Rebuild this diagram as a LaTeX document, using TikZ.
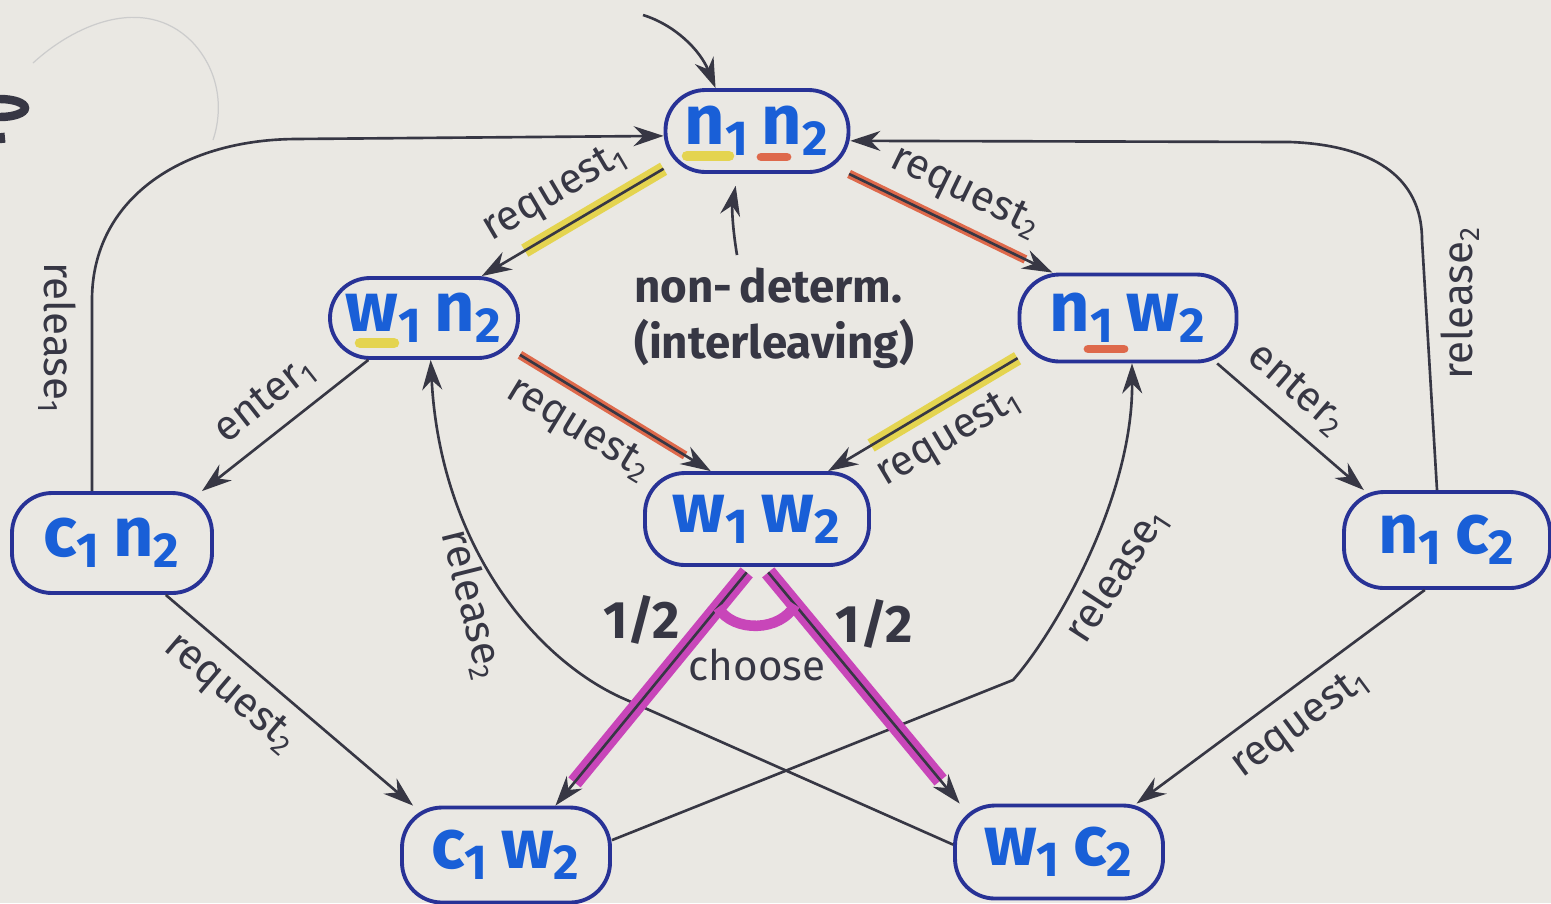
\documentclass[tikz,border=0pt]{standalone}
\usepackage{fontspec}
\setmainfont{Fira Sans}
\usetikzlibrary{arrows.meta,calc}

\definecolor{paper}{RGB}{234,232,227}
\definecolor{inkblue}{RGB}{25,95,215}
\definecolor{penblue}{RGB}{40,50,150}
\definecolor{ink}{RGB}{55,55,68}
\definecolor{hlyellow}{RGB}{228,212,80}
\definecolor{hlred}{RGB}{222,105,75}
\definecolor{hlpink}{RGB}{200,70,185}

\begin{document}
\begin{tikzpicture}[
	state/.style={draw=penblue, line width=1.1pt, rounded corners=0.4cm, text=inkblue,
		font=\fontsize{20}{22}\selectfont\bfseries, inner sep=0pt},
	trans/.style={ink, line width=0.75pt, -{Stealth[length=0.3cm,width=0.2cm]}},
	lbl/.style={text=ink, font=\fontsize{12}{13}\selectfont, inner sep=4pt},
	yel/.style={preaction={draw=hlyellow, line width=4pt, arrows=-, shorten >=0.5cm}},
	redmark/.style={preaction={draw=hlred, line width=2.5pt, arrows=-, shorten >=0.3cm}},
	choice/.style={preaction={draw=hlpink, line width=4.5pt, arrows=-, shorten >=0.3cm}},
	]
	
	\useasboundingbox (0,0) rectangle (15.51,-9.03);
	\fill[paper] (0,0) rectangle (15.51,-9.03);
	
	% Stray pencil stroke and a cut-off letter at the margin
	\draw[gray!40, line width=0.35pt] (0.33,-0.63) .. controls (0.8,-0.2) and (1.5,0.05) .. (1.95,-0.45)
		.. controls (2.25,-0.8) and (2.2,-1.2) .. (2.13,-1.4);
	\begin{scope}
		\clip (0,0) rectangle (15.51,-9.03);
		\draw[ink, line width=2.4pt] (0.0,-1.08) ellipse (0.25 and 0.09);
		\draw[ink, line width=2pt] (0.01,-1.33) -- (0.02,-1.43);
	\end{scope}
	
	% States
	\node[state, minimum width=1.83cm, minimum height=0.82cm] (n1n2) at (7.57,-1.31) {n\textsubscript{1}\,n\textsubscript{2}};
	\node[state, minimum width=1.88cm, minimum height=0.80cm] (w1n2) at (4.24,-3.18) {w\textsubscript{1}\,n\textsubscript{2}};
	\node[state, minimum width=2.17cm, minimum height=0.87cm] (n1w2) at (11.28,-3.18) {n\textsubscript{1}\,w\textsubscript{2}};
	\node[state, minimum width=2.24cm, minimum height=0.92cm] (w1w2) at (7.57,-5.19) {w\textsubscript{1}\,w\textsubscript{2}};
	\node[state, minimum width=2.00cm, minimum height=1.00cm] (c1n2) at (1.12,-5.43) {c\textsubscript{1}\,n\textsubscript{2}};
	\node[state, minimum width=2.06cm, minimum height=0.96cm] (n1c2) at (14.47,-5.40) {n\textsubscript{1}\,c\textsubscript{2}};
	\node[state, minimum width=2.08cm, minimum height=0.95cm] (c1w2) at (5.06,-8.55) {c\textsubscript{1}\,w\textsubscript{2}};
	\node[state, minimum width=2.08cm, minimum height=0.93cm] (w1c2) at (10.59,-8.52) {w\textsubscript{1}\,c\textsubscript{2}};
	
	% Marker strokes under the state names
	\draw[hlyellow, line width=3pt, line cap=round] ($(n1n2)+(-0.70,-0.25)$) -- ++(0.42,0);
	\draw[hlred, line width=2.5pt, line cap=round] ($(n1n2)+(0.04,-0.26)$) -- ++(0.26,0);
	\draw[hlyellow, line width=3pt, line cap=round] ($(w1n2)+(-0.64,-0.25)$) -- ++(0.34,0);
	\draw[hlred, line width=2.5pt, line cap=round] ($(n1w2)+(-0.40,-0.31)$) -- ++(0.36,0);
	
	% Initial state
	\coordinate (init) at (6.43,-0.15);
	\draw[trans] (init) .. controls (6.75,-0.25) and (7.0,-0.5) .. (n1n2.134);
	
	% Requests from the start state
	\draw[trans, yel] (n1n2.202) -- (w1n2.36) node[lbl, midway, sloped, above] {request\textsubscript{1}};
	\draw[trans, redmark] (n1n2.335) -- (n1w2.149) node[lbl, midway, sloped, above] {request\textsubscript{2}};
	
	% Both waiting
	\draw[trans, redmark] (w1n2.339) -- (w1w2.134) node[lbl, pos=0.4, sloped, below] {request\textsubscript{2}};
	\draw[trans, yel] (n1w2.200) -- (w1w2.34) node[lbl, pos=0.45, sloped, below] {request\textsubscript{1}};
	
	% Entering the critical section
	\draw[trans] (w1n2.217) -- (c1n2.30) node[lbl, midway, sloped, above] {enter\textsubscript{1}};
	\draw[trans] (n1w2.333) -- (n1c2.149) node[lbl, pos=0.4, sloped, above] {enter\textsubscript{2}};
	
	% Requests while the other one is critical
	\draw[trans] (c1n2.316) -- (c1w2.152) node[lbl, pos=0.35, sloped, below] {request\textsubscript{2}};
	\draw[trans] (n1c2.246) -- (w1c2.32) node[lbl, midway, sloped, below] {request\textsubscript{1}};
	
	% Outer releases back to the start state
	\draw[trans] ([xshift=-0.2cm]c1n2.north) -- node[lbl, pos=0.8, anchor=north, rotate=-90] {release\textsubscript{1}} (0.92,-3.0)
		.. controls (0.92,-2.0) and (1.8,-1.4) .. (2.95,-1.39) -- (n1n2.183);
	\draw[trans] ([xshift=-0.1cm]n1c2.north) -- node[lbl, pos=0.75, anchor=north, rotate=90] {release\textsubscript{2}} (14.22,-2.4)
		.. controls (14.22,-1.75) and (13.7,-1.45) .. (12.9,-1.42) -- (n1n2.354);
	
	% Inner releases, crossing below
	\draw[trans] (w1c2.176) -- (6.2,-6.97) .. controls (5.3,-6.55) and (4.4,-5.4) .. (w1n2.279)
		node[lbl, pos=0.45, anchor=north, rotate=-76] {release\textsubscript{2}};
	\draw[trans] (c1w2.8) -- (10.13,-6.8) .. controls (10.53,-6.35) and (11.33,-5.0) .. (n1w2.275)
		node[lbl, pos=0.5, anchor=north, rotate=57] {release\textsubscript{1}};
	
	% Hint at the interleaving
	\node[text=ink, font=\fontsize{13}{16}\selectfont\bfseries, align=left] (nondet) at (7.74,-3.18) {non-\,determ.\\(interleaving)};
	\draw[trans, shorten >=0.12cm] ([xshift=-0.37cm]nondet.north) to[bend left=10] (n1n2.246);
	
	% Random choice
	\draw[trans, choice, shorten <=2pt] (w1w2.263) -- (c1w2.45) coordinate[pos=0.17] (cl)
		node[pos=0.22, left=0.15cm, text=ink, font=\fontsize{15}{16}\selectfont\bfseries] {1/2};
	\draw[trans, choice, shorten <=2pt] (w1w2.278) -- (w1c2.154) coordinate[pos=0.16] (cr)
		node[pos=0.24, right=0.12cm, text=ink, font=\fontsize{15}{16}\selectfont\bfseries] {1/2};
	\draw[hlpink, line width=3pt] (cl) to[bend right=60] node[midway, below=1pt, lbl] {choose} (cr);
	
\end{tikzpicture}
\end{document}
